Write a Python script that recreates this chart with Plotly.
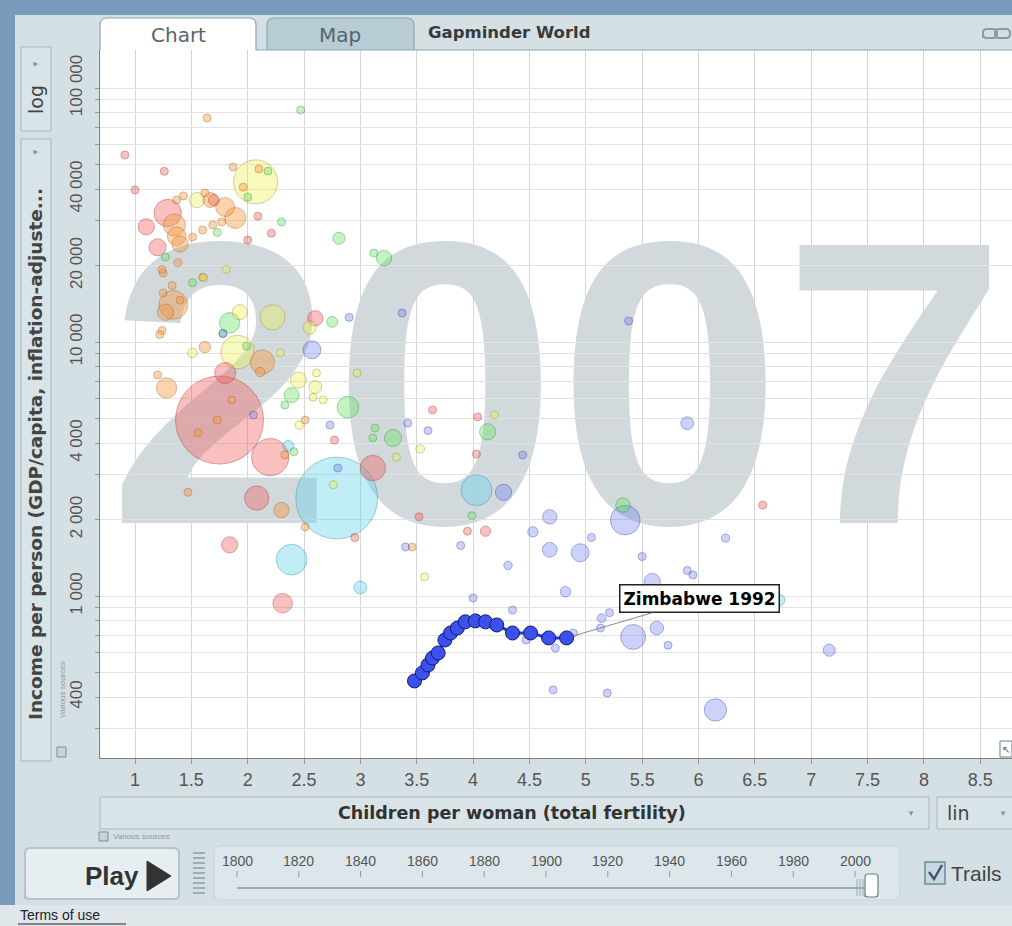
import numpy as np
import plotly.graph_objects as go

# ---- data: fertility (children per woman), income (GDP/capita), population (millions)
# East Asia & Pacific
eap_fert = [0.91, 1.26, 1.00, 1.29, 1.10, 1.20, 1.70, 2.00, 2.09, 2.21, 2.60, 1.80, 1.75, 2.20,
            3.11, 2.08, 1.84, 2.31, 2.95, 3.52, 3.95, 4.11, 4.04, 3.64, 4.03, 6.57, 2.77]
eap_inc = [54500, 47000, 39700, 32200, 28400, 23600, 36200, 25200, 31300, 26800, 12400, 7550, 4930, 3520,
           3190, 2430, 1590, 937, 1700, 2050, 1800, 1800, 5070, 5400, 3620, 2280, 4110]
eap_pop = [0.5, 4.5, 7, 127, 45, 50, 21, 4, 0.4, 1, 40, 75, 1318, 235,
           110, 100, 45, 65, 3, 6, 1, 18, 6, 1, 2, 1, 1]

# Europe & Central Asia
eca_fert = [1.64, 1.87, 1.96, 2.10, 1.43, 1.37, 1.67, 1.62, 1.80, 1.89, 1.35, 1.77, 1.69, 1.60,
            1.37, 1.40, 1.38, 1.51, 1.60, 1.25, 1.33, 1.34, 1.40, 1.27, 1.24, 1.25, 1.24, 1.22,
            2.13, 2.11, 1.28, 1.20, 1.62, 1.47, 1.56, 1.73, 1.86, 2.30, 2.33, 2.51, 3.46, 2.51]
eca_inc = [76200, 48900, 40700, 48000, 37600, 36200, 36200, 38600, 34000, 30800, 28900, 29700, 28900, 27600,
           26100, 24300, 20500, 25900, 18000, 18700, 16700, 14000, 14600, 13100, 19300, 15600, 11100, 10700,
           8340, 7620, 6590, 7420, 9550, 2560, 4390, 4930, 5910, 2180, 3590, 1870, 1560, 4930]
eca_pop = [0.5, 4.7, 4.3, 0.3, 7.5, 8.3, 38, 5.5, 61, 75, 82, 9, 10.5, 5.3,
           59, 45, 11, 2, 0.8, 10.6, 10.3, 142, 10, 45, 1.3, 5.4, 4.5, 2.3,
           100, 15, 70, 9.7, 22, 3, 4, 3, 3, 40, 8.6, 5.2, 6.7, 5]

# Middle East & North Africa
mena_fert = [2.47, 2.18, 2.00, 2.30, 2.81, 3.21, 3.12, 1.73, 1.84, 2.75, 1.51, 1.27,
             2.39, 1.99, 1.78, 2.89, 3.29, 3.13, 3.11, 4.13, 3.99, 5.33, 2.33, 2.41]
mena_inc = [81900, 47100, 37200, 29700, 25600, 21400, 22400, 27000, 11900, 12000, 17100, 21600,
            6180, 9640, 10800, 5540, 4190, 4580, 4190, 4430, 2070, 2280, 5650, 3700]
mena_pop = [0.8, 2.5, 4.4, 0.7, 25, 40, 1, 7, 71, 20, 4, 1,
            38, 3, 3, 80, 50, 3, 2, 45, 4, 35, 4, 6]

# America
amr_fert = [2.07, 1.55, 1.81, 1.61, 2.22, 1.93, 2.55, 1.51, 1.91, 2.29, 2.58,
            2.67, 2.45, 2.60, 2.61, 2.97, 2.46, 3.32, 3.53, 4.19, 2.76, 3.57]
amr_inc = [42700, 36200, 19300, 17900, 12500, 13100, 11400, 9060, 9130, 9060, 6060,
           5920, 7080, 6650, 7550, 7550, 4710, 3520, 3790, 5160, 2740, 1190]
amr_pop = [330, 40, 1.3, 0.3, 107, 39, 30, 16, 190, 4.5, 3.3,
           6, 44, 28, 9, 2.8, 13, 6, 13, 9, 6, 9]

# South Asia
sa_fert = [2.79, 4.03, 2.39, 3.00, 2.36, 6.71]
sa_inc = [2430, 2610, 1390, 1080, 3900, 964]
sa_pop = [1140, 163, 160, 28, 20, 27]

# Sub-Saharan Africa
ssa_fert = [2.57, 2.90, 3.37, 5.38, 2.05, 2.73, 2.80, 3.42, 3.60, 4.44, 5.90, 4.27, 3.40, 3.89, 4.00,
            4.68, 4.53, 4.68, 4.31, 4.95, 5.05, 5.35, 5.50, 6.24, 4.82, 4.35, 5.59, 5.90, 5.95, 5.14,
            5.21, 5.13, 5.42, 5.63, 5.73, 4.71, 5.19, 6.15, 7.16, 4.73, 4.89, 4.47, 5.55, 5.95, 1.78]
ssa_inc = [9320, 12500, 13000, 12100, 5160, 4710, 3190, 4790, 4480, 3590, 4790, 2560, 1560, 1580, 982,
           2050, 1790, 1520, 1320, 1480, 1700, 1990, 1430, 1690, 1040, 881, 1140, 1260, 1210, 818,
           860, 748, 690, 748, 640, 427, 415, 356, 612, 624, 715, 671, 922, 990, 10800]
ssa_pop = [55, 1.9, 1.4, 0.6, 1.3, 0.5, 0.8, 2, 1.1, 3.6, 28, 45, 0.5, 0.5, 0.5,
           35, 18, 37, 12, 55, 10, 150, 5, 11, 19, 6, 45, 10, 10, 13,
           4, 4, 105, 31, 3, 9, 4, 85, 25, 4, 3, 3, 28, 10, 0.1]

# Zimbabwe trail
zw_fert = [3.48, 3.55, 3.60, 3.64, 3.69, 3.75, 3.80, 3.86, 3.93, 4.02, 4.11, 4.21, 4.35, 4.51, 4.67, 4.83]
zw_inc = [463, 498, 535, 570, 597, 671, 715, 748, 791, 798, 791, 769, 715, 715, 684, 684]
zw_label = "Zimbabwe 1992"

# axes
x_ticks = [1, 1.5, 2, 2.5, 3, 3.5, 4, 4.5, 5, 5.5, 6, 6.5, 7, 7.5, 8, 8.5]
y_grid = [k * 10 ** e for e in (2, 3, 4) for k in range(1, 10)] + [100000]
y_grid = [v for v in y_grid if v >= 300]
y_labels = {400: "400", 1000: "1 000", 2000: "2 000", 4000: "4 000",
            10000: "10 000", 20000: "20 000", 40000: "40 000", 100000: "100 000"}
years = [1800, 1820, 1840, 1860, 1880, 1900, 1920, 1940, 1960, 1980, 2000]
watermark = "2007"

# ---- layout helpers (pixel -> paper)
W, H = 1012, 926
L, T, B = 100, 50, 168
PW, PH = W - L, H - T - B
SANS = "Liberation Sans, Arial, sans-serif"
WIDE = "DejaVu Sans, Verdana, sans-serif"
NARROW = "Liberation Sans Narrow, Arial Narrow, Liberation Sans, sans-serif"
PANEL = "#d5e0e4"
EDGE = "#a6b9c1"


def px(x):
    return (x - L) / PW


def py(y):
    return (H - B - y) / PH


def rrect(x0, y0, x1, y1, r, top_only=False):
    p = f"M {px(x0)},{py(y1)} L {px(x0)},{py(y0 + r)} Q {px(x0)},{py(y0)} {px(x0 + r)},{py(y0)} "
    p += f"L {px(x1 - r)},{py(y0)} Q {px(x1)},{py(y0)} {px(x1)},{py(y0 + r)} "
    if top_only:
        return p + f"L {px(x1)},{py(y1)}"
    p += f"L {px(x1)},{py(y1 - r)} Q {px(x1)},{py(y1)} {px(x1 - r)},{py(y1)} "
    p += f"L {px(x0 + r)},{py(y1)} Q {px(x0)},{py(y1)} {px(x0)},{py(y1 - r)} Z"
    return p


shapes, notes = [], []


def box(x0, y0, x1, y1, fill, line=EDGE, width=1, layer="above"):
    shapes.append(dict(type="rect", xref="paper", yref="paper", x0=px(x0), x1=px(x1), y0=py(y1), y1=py(y0),
                       fillcolor=fill, line=dict(color=line, width=width), layer=layer))


def path(p, fill=None, line=EDGE, width=1):
    shapes.append(dict(type="path", xref="paper", yref="paper", path=p,
                       fillcolor=fill if fill else "rgba(0,0,0,0)", line=dict(color=line, width=width)))


def seg(x0, y0, x1, y1, color, width=1):
    shapes.append(dict(type="line", xref="paper", yref="paper", x0=px(x0), x1=px(x1), y0=py(y0), y1=py(y1),
                       line=dict(color=color, width=width)))


def note(x, y, text, size, color="#444", bold=False, angle=0, xanchor="center", family=SANS):
    notes.append(dict(xref="paper", yref="paper", x=px(x), y=py(y), text=text, showarrow=False,
                      font=dict(size=size, color=color, family=family, weight="bold" if bold else "normal"),
                      textangle=angle, xanchor=xanchor, yanchor="middle"))


# ---- frame
box(0, 0, W, 15, "#7b9bbd", line="#7b9bbd", width=0)
box(0, 0, 15, 905, "#7b9bbd", line="#7b9bbd", width=0)
box(0, 905, W, H, "#dfe7ea", line="#dfe7ea", width=0)

# tabs
path(rrect(267, 18, 414, 50, 7, top_only=True), fill="#b7ccd5", line="#8ea6b0", width=1.2)
path(rrect(100, 18, 256, 50, 7, top_only=True), fill="white", line="#8ea6b0", width=1.2)
seg(256, 50, W, 50, "#8ea6b0", 1.2)
note(178, 35, "Chart", 20, "#55656c", family=WIDE)
note(340, 35, "Map", 20, "#55656c", family=WIDE)
note(426, 33, "Gapminder World", 16.5, "#3a3a3a", bold=True, xanchor="left", family=WIDE)
path(rrect(983, 29, 997, 38, 4), line="#8b9ba2", width=2)
path(rrect(995, 29, 1010, 38, 4), line="#8b9ba2", width=2)

# y axis controls
box(21, 47, 51, 131, "#d9e4e8")
box(21, 139, 51, 761, "#d9e4e8")
note(36, 100, "log", 19, "#444", angle=-90, family=WIDE)
note(36, 64, "▼", 8, "#7f97a3", angle=-90)
note(36, 152, "▼", 8, "#7f97a3", angle=-90)
note(35, 454, "Income per person (GDP/capita, inflation-adjuste...", 18.5, "#444", bold=True, angle=-90,
     family=WIDE)
note(62, 690, "Various sources", 8, "#8a9aa3", angle=-90)
box(57, 747, 66, 757, "#c8d4d8", line="#7d8d95")

# x axis controls
box(100, 797, 929, 829, "#d9e4e8")
box(937, 797, 1016, 829, "#d9e4e8")
note(512, 813, "Children per woman (total fertility)", 17.5, "#333", bold=True, family=WIDE)
note(911, 813, "▼", 8, "#7f97a3")
note(958, 813, "lin", 19, "#444", family=WIDE)
note(1003, 813, "▼", 8, "#7f97a3")
box(99, 832, 108, 841, "#c8d4d8", line="#7d8d95")
note(111, 836, "Various sources", 8, "#8a9aa3", xanchor="left")
box(1000, 741, 1012, 757, "white", line="#6b7f88")
note(1006, 749, "↖", 10, "#3d4f58")

# play controls
path(rrect(25, 848, 179, 899, 5), fill="#e6eef1", line="#b3c4cb", width=2)
note(112, 876, "Play", 26, "#333", bold=True)
path(f"M {px(147)},{py(861)} L {px(147)},{py(891)} L {px(171)},{py(876)} Z", fill="#333", line="#333")
for yy in range(853, 897, 5):
    seg(193, yy, 205, yy, "#8d9ea6", 1.5)
path(rrect(214, 846, 900, 900, 8), fill="#dde7eb", line="#c8d5da", width=1)
for yr in years:
    xx = 237 + (yr - 1800) * 3.09
    note(xx, 861, str(yr), 14, "#555", family=NARROW)
    seg(xx, 871, xx, 877, "#8a9aa2", 1)
seg(237, 888, 872, 888, "#8a9aa2", 1.5)
for xx in (857, 860, 863):
    seg(xx, 879, xx, 896, "#9aa9b0", 1)
path(rrect(865, 874, 878, 897, 3), fill="white", line="#6f7f87", width=1.2)
box(925, 862, 945, 884, "#c9d8de", line="#6e8a96", width=1.5)
path(f"M {px(929)},{py(872)} L {px(934)},{py(879)} L {px(942)},{py(865)}", line="#3a5a70", width=2.5)
note(949, 873, "Trails", 21, "#444", xanchor="left", family=NARROW)

note(18, 915, "Terms of use", 14, "#222", xanchor="left")
seg(18, 924, 126, 924, "#222", 1)

# year watermark, under the grid
shapes.append(dict(type="rect", xref="paper", yref="paper", x0=px(110), x1=px(1005), y0=py(497), y1=py(193),
                   line=dict(width=0), fillcolor="rgba(0,0,0,0)", layer="below",
                   label=dict(text=watermark, textposition="middle center",
                              font=dict(size=404, color="#d2d9dc", family="Liberation Sans", weight="bold"))))

# ---- bubbles
regions = [
    (ssa_fert, ssa_inc, ssa_pop, "rgba(95,115,240,0.45)", "rgba(55,65,170,0.6)"),
    (sa_fert, sa_inc, sa_pop, "rgba(95,210,235,0.55)", "rgba(40,140,160,0.6)"),
    (eap_fert, eap_inc, eap_pop, "rgba(242,92,92,0.55)", "rgba(170,50,50,0.6)"),
    (eca_fert, eca_inc, eca_pop, "rgba(245,150,60,0.58)", "rgba(170,95,30,0.6)"),
    (mena_fert, mena_inc, mena_pop, "rgba(100,225,100,0.55)", "rgba(50,150,50,0.6)"),
    (amr_fert, amr_inc, amr_pop, "rgba(235,240,85,0.55)", "rgba(150,150,40,0.6)"),
]
fert = np.concatenate([r[0] for r in regions])
inc = np.concatenate([r[1] for r in regions])
pop = np.concatenate([r[2] for r in regions]).astype(float)
fill = np.concatenate([[r[3]] * len(r[0]) for r in regions])
edge = np.concatenate([[r[4]] * len(r[0]) for r in regions])
order = np.argsort(-pop)
diam = np.maximum(88 * np.sqrt(pop / pop.max()), 8)

fig = go.Figure()
fig.add_trace(go.Scatter(
    x=fert[order], y=inc[order], mode="markers", hoverinfo="skip",
    marker=dict(size=diam[order], sizemode="diameter", color=list(fill[order]),
                line=dict(color=list(edge[order]), width=1))
))
fig.add_trace(go.Scatter(
    x=zw_fert, y=zw_inc, mode="lines+markers", hoverinfo="skip",
    line=dict(color="#2a3cc4", width=3),
    marker=dict(size=14, color="#3b50ee", line=dict(color="#141c66", width=1))
))

notes.append(dict(x=zw_fert[-1], y=np.log10(zw_inc[-1]), xref="x", yref="y", text=zw_label,
                  showarrow=True, arrowhead=0, arrowwidth=1, arrowcolor="#888", ax=133, ay=-39,
                  standoff=7, bgcolor="white", bordercolor="#222", borderwidth=1.5, borderpad=3,
                  font=dict(family=WIDE, size=17, color="black", weight="bold")))

x_lo = 1 + (L - 135) / 112.7
x_hi = 1 + (W - 135) / 112.7
y_lo = 5 - (H - B - 88) / 254
y_hi = 5 + (88 - T) / 254

fig.update_layout(
    width=W, height=H,
    margin=dict(l=L, r=0, t=T, b=B),
    paper_bgcolor=PANEL, plot_bgcolor="white",
    showlegend=False,
    shapes=shapes, annotations=notes,
    xaxis=dict(range=[x_lo, x_hi], tickvals=x_ticks, ticktext=[f"{v:g}" for v in x_ticks],
               showgrid=True, gridcolor="#d6d6d6", gridwidth=1, zeroline=False,
               ticks="outside", ticklen=5, tickcolor="#999",
               showline=True, linecolor="#7d7d7d", linewidth=1,
               tickfont=dict(size=18, color="#555", family=NARROW)),
    yaxis=dict(type="log", range=[y_lo, y_hi], tickvals=y_grid,
               ticktext=[y_labels.get(v, "") for v in y_grid], tickangle=-90,
               showgrid=True, gridcolor="#e2e2e2", gridwidth=1, zeroline=False,
               ticks="outside", ticklen=4, tickcolor="#999", ticklabelstandoff=6,
               showline=True, linecolor="#7d7d7d", linewidth=1,
               tickfont=dict(size=17, color="#555", family=NARROW)),
)

fig.write_html("out.html", config={"displayModeBar": False},
               post_script="document.body.style.margin='0';")
